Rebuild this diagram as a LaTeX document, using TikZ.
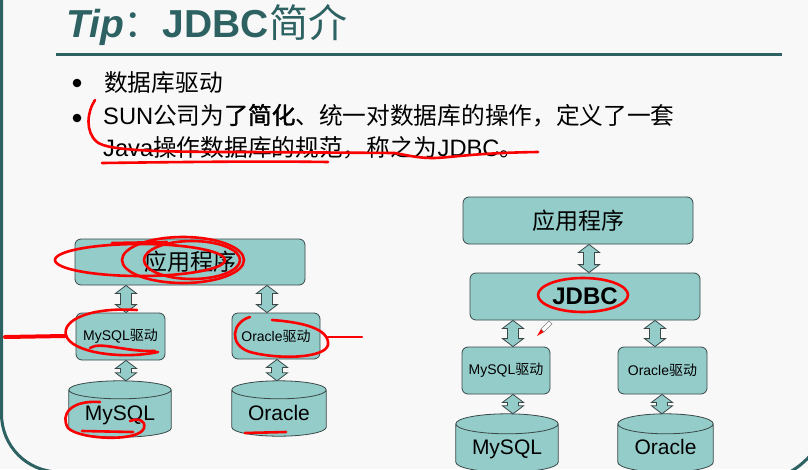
\documentclass[tikz,border=0pt]{standalone}
\usepackage{fontspec}
\setmainfont{Liberation Sans}
\newfontfamily\cjk{Noto Sans CJK SC}
\newfontfamily\cjkheavy{Noto Sans CJK SC}[FakeBold=1.6]
\usetikzlibrary{calc}
\pgfdeclarelayer{back}
\pgfsetlayers{back,main}
\definecolor{pagebg}{HTML}{F8F8F8}
\definecolor{framecol}{RGB}{46,98,98}
\definecolor{boxfill}{RGB}{148,204,201}
\definecolor{edgecol}{RGB}{58,72,72}
\definecolor{inkred}{RGB}{250,0,0}
\tikzset{
 box/.style={draw=edgecol, fill=boxfill, line width=0.8pt, rounded corners=6pt, inner sep=0pt},
 dbnode/.style={inner sep=0pt, text height=28pt, text depth=5pt, font=\fontsize{21}{25}\selectfont},
 dbshape/.style={draw=edgecol, fill=boxfill, line width=0.8pt},
 blockarrow/.style={draw=edgecol, fill=boxfill, line width=0.8pt, line join=miter},
 redink/.style={draw=inkred, line width=2.6pt, line cap=round, line join=round},
 bigtxt/.style={font=\fontsize{23}{28}\selectfont\cjk},
 drvtxt/.style={font=\fontsize{14}{17}\selectfont},
 bodytxt/.style={anchor=base west, inner sep=0pt, font=\fontsize{23.7}{28}\selectfont},
}
\newcommand{\dblarrow}[3]{%
 \path[blockarrow] let \p1=(#2.south), \p2=(#3.north), \p3=(#1,0) in
 ({\x3},{\y1}) -- ({\x3+10.5pt},{\y1-8pt}) -- ({\x3+5.5pt},{\y1-8pt}) -- ({\x3+5.5pt},{\y2+8pt}) -- ({\x3+10.5pt},{\y2+8pt}) -- ({\x3},{\y2}) -- ({\x3-10.5pt},{\y2+8pt}) -- ({\x3-5.5pt},{\y2+8pt}) -- ({\x3-5.5pt},{\y1-8pt}) -- ({\x3-10.5pt},{\y1-8pt}) -- cycle;}
\newcommand{\dbcyl}[2]{%
 \begin{pgfonlayer}{back}
 \path[dbshape] let \p1=(#1.north west), \p2=(#1.south east) in
   ({\x1},{\y1-#2}) -- ({\x1},{\y2+#2}) arc[start angle=180,end angle=360,x radius={(\x2-\x1)/2},y radius=#2] -- ({\x2},{\y1-#2}) arc[start angle=0,end angle=180,x radius={(\x2-\x1)/2},y radius=#2] -- cycle
   ({\x1},{\y1-#2}) arc[start angle=180,end angle=360,x radius={(\x2-\x1)/2},y radius=#2];
 \end{pgfonlayer}}
\begin{document}
\begin{tikzpicture}[x=1pt,y=-1pt]
\begin{pgfonlayer}{back}
\fill[pagebg] (0,0) rectangle (808,469);
\end{pgfonlayer}
\useasboundingbox (0,0) rectangle (808,469);
% frame
\draw[framecol, line width=3pt] (1.5,-5) -- (1.5,414) .. controls (1.5,446) and (27,472) .. (59.5,472);
\draw[framecol, line width=3pt] (784,475) .. controls (797,469) and (806,461) .. (814,451);
% title
\node[anchor=base west, inner sep=0pt, text=framecol, font=\fontsize{39}{44}\selectfont] (title) at (66,37) {{\bfseries\itshape Tip}{\cjk ：}{\bfseries JDBC}{\cjk 简介}};
\draw[framecol, line width=3pt] (56,54.5) -- (782,54.5);
% bullets
\fill (77,83) circle[radius=4.3pt];
\fill (77,118) circle[radius=4.3pt];
\node[bodytxt] (b1) at (104,91) {\cjk 数据库驱动};
\node[bodytxt] (b2a) at (103,124) {SUN{\cjk 公司为{\cjkheavy 了简化}、统一对数据库的操作，定义了一套}};
\node[bodytxt] (b2b) at (103,156) {Java{\cjk 操作数据库的规范，称之为}JDBC{\cjk 。}};
% left diagram
\node[box, minimum width=230pt, minimum height=46pt, bigtxt] (appL) at (190,262) {应用程序};
\node[box, minimum width=89pt, minimum height=47pt, drvtxt] (mydrvL) at (120.5,336.5) {MySQL{\cjk 驱动}};
\node[box, minimum width=88pt, minimum height=46pt, drvtxt] (ordrvL) at (276,336) {Oracle{\cjk 驱动}};
\node[dbnode, minimum width=102pt, minimum height=56pt] (mydbL) at (120,409) {MySQL};
\node[dbnode, minimum width=94pt, minimum height=55pt] (ordbL) at (279,408.5) {Oracle};
\dbcyl{mydbL}{9pt}
\dbcyl{ordbL}{9pt}
\dblarrow{126}{appL}{mydrvL}
\dblarrow{267}{appL}{ordrvL}
\dblarrow{126}{mydrvL}{mydbL}
\dblarrow{277}{ordrvL}{ordbL}
% right diagram
\node[box, minimum width=230pt, minimum height=47pt, bigtxt] (appR) at (578,220.5) {应用程序};
\node[box, minimum width=230pt, minimum height=47pt, font=\bfseries\fontsize{24}{28}\selectfont] (jdbc) at (585,296.5) {JDBC};
\node[box, minimum width=88pt, minimum height=47pt, drvtxt] (mydrvR) at (506,370.5) {MySQL{\cjk 驱动}};
\node[box, minimum width=89pt, minimum height=47pt, drvtxt] (ordrvR) at (662.5,370.5) {Oracle{\cjk 驱动}};
\node[dbnode, minimum width=102pt, minimum height=58pt] (mydbR) at (507,443) {MySQL};
\node[dbnode, minimum width=95pt, minimum height=58pt] (ordbR) at (665.5,443) {Oracle};
\dbcyl{mydbR}{10pt}
\dbcyl{ordbR}{10pt}
\dblarrow{589}{appR}{jdbc}
\dblarrow{513}{jdbc}{mydrvR}
\dblarrow{655}{jdbc}{ordrvR}
\dblarrow{513}{mydrvR}{mydbR}
\dblarrow{662}{ordrvR}{ordbR}
% red annotations
\draw[redink] (95,100) .. controls (87,112) and (85,132) .. (97,142) .. controls (108,151) and (160,152) .. (250,152) -- (395,153) .. controls (410,156) and (420,158) .. (432,158) .. controls (450,158) and (470,153) .. (538,152);
\draw[redink] (102,163) .. controls (180,162) and (260,161) .. (328,162);
\draw[redink] (112,243) -- (167,242);
\draw[redink] (140,260) ellipse[x radius=85pt, y radius=16pt];
\draw[redink] (183,260) ellipse[x radius=61pt, y radius=23pt];
\draw[redink] (192,260) ellipse[x radius=48pt, y radius=19pt];
\draw[redink, line width=4pt] (5,337) -- (65,336);
\draw[redink] (137,310) .. controls (90,307) and (62,320) .. (66,335) .. controls (70,352) and (120,360) .. (158,352);
\draw[redink] (90,348) .. controls (100,341) and (125,352) .. (155,351);
\draw[redink] (250,317) .. controls (232,322) and (228,345) .. (250,352) .. controls (280,360) and (325,358) .. (328,345) .. controls (330,328) and (300,322) .. (272,320);
\draw[redink] (328,337) -- (362,337);
\draw[redink] (100,402) .. controls (70,400) and (60,415) .. (68,428) .. controls (80,440) and (140,442) .. (144,428) .. controls (146,420) and (138,418) .. (130,421);
\draw[redink] (82,431) -- (133,432);
\draw[redink] (245,433) -- (286,432);
\draw[redink] (583,295) ellipse[x radius=45pt, y radius=17pt];
% pen cursor
\fill[inkred] (537,336) -- (541,329) -- (544,332) -- cycle;
\draw[gray, fill=white, line width=0.6pt] (541,329) -- (549,321) -- (552,324) -- (544,332) -- cycle;
\end{tikzpicture}
\end{document}
